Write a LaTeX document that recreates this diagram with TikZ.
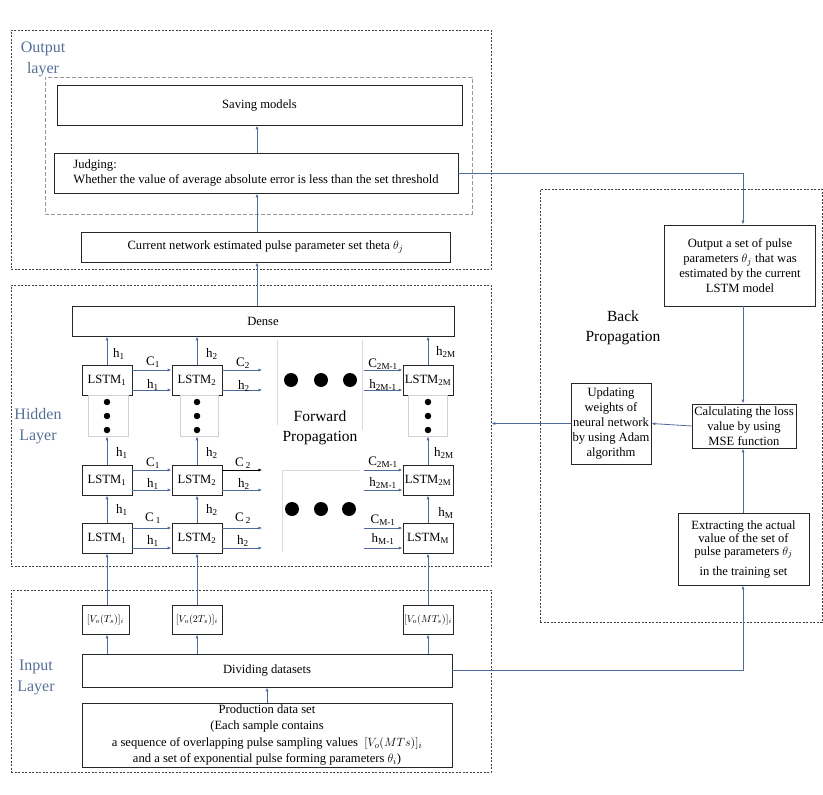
\documentclass[tikz,border=0pt]{standalone}
\usepackage{fontspec}
\setmainfont{Liberation Serif}
\usetikzlibrary{arrows.meta,calc}
\definecolor{arrcol}{RGB}{78,108,155}
\definecolor{labcol}{RGB}{85,112,152}
\begin{document}
\begin{tikzpicture}[x=1pt,y=-1pt,
  box/.style={draw=black!85,line width=0.7pt,inner sep=0pt,align=center,font=\fontsize{12.6}{15}\selectfont},
  lstm/.style={box,minimum width=50pt,minimum height=30pt},
  outer/.style={draw=black!75,line width=0.6pt,dash pattern=on 2pt off 1.5pt,inner sep=0pt},
  innerd/.style={draw=black!40,line width=0.6pt,dash pattern=on 4pt off 2pt,inner sep=0pt},
  dotbox/.style={draw=black!18,line width=0.5pt,inner sep=0pt},
  faint/.style={draw=black!15,line width=0.5pt},
  arr/.style={draw=arrcol,line width=0.8pt,-{Latex[length=4pt,width=3pt]}},
  lab/.style={inner sep=0pt,font=\fontsize{13}{15}\selectfont},
  layerlab/.style={inner sep=0pt,align=center,text=labcol,font=\fontsize{16}{21}\selectfont},
  biglab/.style={inner sep=0pt,align=center,font=\fontsize{15.5}{20}\selectfont},
  bigdot/.style={fill=black,circle,inner sep=0pt,minimum size=14pt},
  smalldot/.style={fill=black,circle,inner sep=0pt,minimum size=6.5pt}
]
\useasboundingbox (0,0) rectangle (823,795);

% ---------- layer frames ----------
\node[outer,minimum width=480pt,minimum height=239pt] (outbox) at (251,149.5) {};
\node[innerd,minimum width=427pt,minimum height=137pt] (inbox2) at (258.5,145.5) {};
\node[outer,minimum width=480pt,minimum height=281pt] (hid) at (251,425.5) {};
\node[outer,minimum width=480pt,minimum height=182pt] (inp) at (251,681) {};
\node[outer,minimum width=282pt,minimum height=433pt] (back) at (681,405.5) {};

\node[layerlab] (outlab) at (43,59.5) {Output\\layer};
\node[layerlab] (hidlab) at (38,426) {Hidden\\Layer};
\node[layerlab] (inlab) at (36,677) {Input\\Layer};

% ---------- output layer ----------
\node[box,minimum width=405pt,minimum height=40pt] (save) at (259.5,105) {Saving models};
\node[box,minimum width=404pt,minimum height=40pt,align=left] (judge) at (256,173) {Judging:\\Whether the value of average absolute error is less than the set threshold};
\node[box,minimum width=369pt,minimum height=30pt] (cur) at (265.5,247) {Current network estimated pulse parameter set theta $\theta_j$};

% ---------- hidden layer ----------
\node[box,minimum width=382pt,minimum height=30pt] (dense) at (263,321) {Dense};

\node[lstm] (l11) at (107,380) {LSTM\textsubscript{1}};
\node[lstm] (l12) at (197,380) {LSTM\textsubscript{2}};
\node[lstm] (l1M) at (428,380) {LSTM\textsubscript{2M}};
\node[lstm] (l21) at (107,480) {LSTM\textsubscript{1}};
\node[lstm] (l22) at (197,480) {LSTM\textsubscript{2}};
\node[lstm] (l2M) at (428,480) {LSTM\textsubscript{2M}};
\node[lstm] (l31) at (107,538) {LSTM\textsubscript{1}};
\node[lstm] (l32) at (197,538) {LSTM\textsubscript{2}};
\node[lstm] (l3M) at (428,538) {LSTM\textsubscript{M}};

\node[dotbox,minimum width=40pt,minimum height=41pt] (d1) at (108,415.5) {};
\node[dotbox,minimum width=38pt,minimum height=41pt] (d2) at (199,415.5) {};
\node[dotbox,minimum width=39pt,minimum height=41pt] (dM) at (427.5,415.5) {};
\foreach \c/\xx in {a/107,b/197,c/428}{
  \node[smalldot] (sd\c1) at (\xx,402) {};
  \node[smalldot] (sd\c2) at (\xx,416) {};
  \node[smalldot] (sd\c3) at (\xx,430) {};
}
\node[bigdot] (bd1) at (291,380) {};
\node[bigdot] (bd2) at (321,380) {};
\node[bigdot] (bd3) at (350,380) {};
\node[bigdot] (bd4) at (292,509) {};
\node[bigdot] (bd5) at (321,509) {};
\node[bigdot] (bd6) at (349,509) {};

\draw[faint] (277,340) -- (277,425);
\draw[faint] (362,340) -- (362,430);
\draw[faint] (360,470) -- (282,470) -- (282,552);

\node[biglab] (fwd) at (320,428) {Forward\\Propagation};

% vertical arrows in hidden layer
\foreach \c in {1,2,M}{
  \draw[arr] (l1\c.north) -- (l1\c.north |- dense.south);
  \draw[arr] (l2\c.north) -- (l2\c.north |- d1.south);
  \draw[arr] (l3\c.north) -- (l2\c.south);
}
% horizontal arrows
\foreach \r in {1,2,3}{
  \draw[arr] ($(l\r 1.east)+(0,-10)$) -- ($(l\r 2.west)+(0,-10)$);
  \draw[arr] ($(l\r 1.east)+(0,10)$) -- ($(l\r 2.west)+(0,10)$);
  \draw[arr] ($(l\r 2.east)+(0,10)$) -- ($(l\r 2.east)+(40,10)$);
  \draw[arr] ($(l\r M.west)+(-39,-10)$) -- ($(l\r M.west)+(0,-10)$);
  \draw[arr] ($(l\r M.west)+(-39,10)$) -- ($(l\r M.west)+(0,10)$);
}
\draw[arr] ($(l12.east)+(0,-10)$) -- ($(l12.east)+(40,-10)$);
\draw[arr,draw=black] ($(l22.east)+(0,-10)$) -- ($(l22.east)+(40,-10)$);
\draw[arr] ($(l32.east)+(0,-10)$) -- ($(l32.east)+(40,-10)$);

% labels row 1
\node[lab] (r1a) at (119,354) {h\textsubscript{1}};
\node[lab] (r1b) at (153,362) {C\textsubscript{1}};
\node[lab] (r1c) at (153,385) {h\textsubscript{1}};
\node[lab] (r1d) at (212,354) {h\textsubscript{2}};
\node[lab] (r1e) at (243,363) {C\textsubscript{2}};
\node[lab] (r1f) at (244,386) {h\textsubscript{2}};
\node[lab] (r1g) at (383,364) {C\textsubscript{2M-1}};
\node[lab] (r1h) at (383,385) {h\textsubscript{2M-1}};
\node[lab] (r1i) at (446,352) {h\textsubscript{2M}};
% labels row 2
\node[lab] (r2a) at (122,453) {h\textsubscript{1}};
\node[lab] (r2b) at (153,463) {C\textsubscript{1}};
\node[lab] (r2c) at (153,484) {h\textsubscript{1}};
\node[lab] (r2d) at (212,453) {h\textsubscript{2}};
\node[lab] (r2e) at (243,463) {C\,\textsubscript{2}};
\node[lab] (r2f) at (244,484) {h\textsubscript{2}};
\node[lab] (r2g) at (383,462) {C\textsubscript{2M-1}};
\node[lab] (r2h) at (383,483) {h\textsubscript{2M-1}};
\node[lab] (r2i) at (444,453) {h\textsubscript{2M}};
% labels row 3
\node[lab] (r3a) at (122,510) {h\textsubscript{1}};
\node[lab] (r3b) at (153,518) {C\,\textsubscript{1}};
\node[lab] (r3c) at (153,541) {h\textsubscript{1}};
\node[lab] (r3d) at (212,510) {h\textsubscript{2}};
\node[lab] (r3e) at (243,518) {C\,\textsubscript{2}};
\node[lab] (r3f) at (243,541) {h\textsubscript{2}};
\node[lab] (r3g) at (383,520) {C\textsubscript{M-1}};
\node[lab] (r3h) at (383,539) {h\textsubscript{M-1}};
\node[lab] (r3i) at (446,513) {h\textsubscript{M}};

% ---------- input layer ----------
\node[box,minimum width=47pt,minimum height=29pt,font=\fontsize{10}{12}\selectfont] (v1) at (105.5,619.5) {$[V_o(T_s)]_i$};
\node[box,minimum width=50pt,minimum height=29pt,font=\fontsize{10}{12}\selectfont] (v2) at (197,619.5) {$[V_o(2T_s)]_i$};
\node[box,minimum width=50pt,minimum height=29pt,font=\fontsize{10}{12}\selectfont] (vM) at (428,619.5) {$[V_o(MT_s)]_i$};
\node[box,minimum width=370pt,minimum height=33pt] (div) at (267,670.5) {Dividing datasets};
\node[box,minimum width=370pt,minimum height=64pt,font=\fontsize{12.6}{16.5}\selectfont] (prod) at (267,735) {Production data set\\(Each sample contains\\a sequence of overlapping pulse sampling values\ \ $[V_o(MTs)]_i$\\and a set of exponential pulse forming parameters $\theta_i$)};

\foreach \c/\v in {1/v1,2/v2,M/vM}{
  \draw[arr] (l3\c.south |- div.north) -- (l3\c.south |- \v.south);
  \draw[arr] (l3\c.south |- \v.north) -- (l3\c.south);
}
\draw[arr] (prod.north) -- (div.south);

% output layer arrows
\coordinate (ax) at (257,0);
\draw[arr] (dense.north -| ax) -- (cur.south -| ax);
\draw[arr] (cur.north -| ax) -- (judge.south -| ax);
\draw[arr] (judge.north -| ax) -- (save.south -| ax);

% ---------- back propagation ----------
\node[box,minimum width=151pt,minimum height=81pt] (outset) at (740,265.5) {Output a set of pulse\\parameters $\theta_j$ that was\\estimated by the current\\LSTM model};
\node[box,minimum width=104pt,minimum height=44pt] (calc) at (744,426) {Calculating the loss\\value by using\\MSE function};
\node[box,minimum width=80pt,minimum height=81pt] (upd) at (611,423.5) {Updating\\weights of\\neural network\\by using Adam\\algorithm};
\node[box,minimum width=131pt,minimum height=72pt,font=\fontsize{12.6}{13}\selectfont] (extr) at (743.5,549) {Extracting the actual\\value of the set of\\pulse parameters $\theta_j$\\[7pt]in the training set};
\node[biglab] (bplab) at (623,328) {Back\\Propagation};

\coordinate (bx) at (743,0);
\draw[arr] (judge.east) -| (bx |- outset.north);
\draw[arr] (bx |- outset.south) -- (bx |- calc.north);
\draw[arr] (calc.west) -- (upd.east);
\draw[arr] (upd.west) -- (hid.east |- upd.west);
\draw[arr] (div.east) -| (bx |- extr.south);
\draw[arr] (bx |- extr.north) -- (bx |- calc.south);
\end{tikzpicture}
\end{document}
